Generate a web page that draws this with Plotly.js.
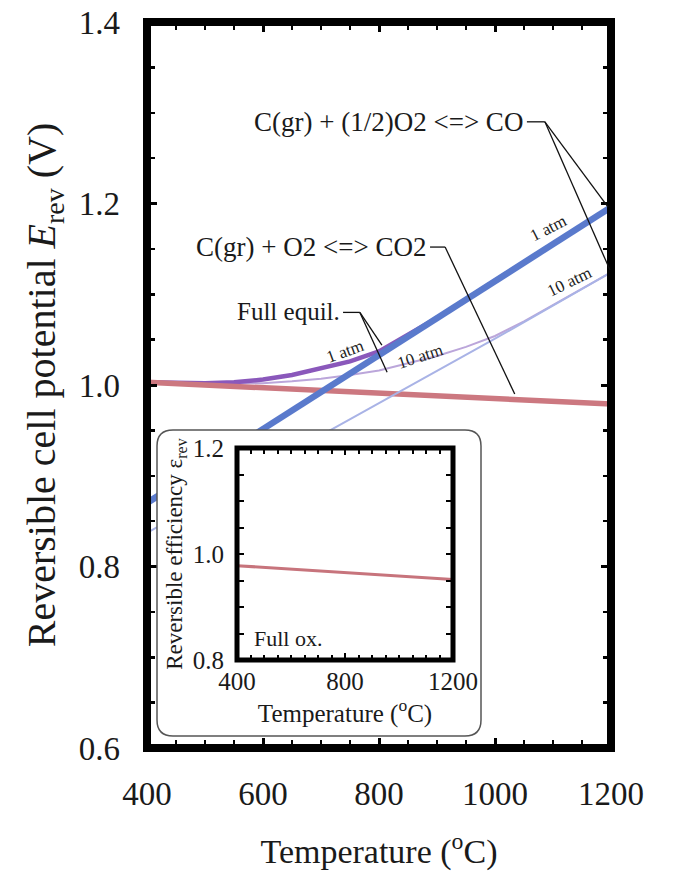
<!DOCTYPE html>
<html>
<head>
<meta charset="utf-8">
<script src="https://cdn.plot.ly/plotly-3.0.1.min.js"></script>
<style>html,body{margin:0;padding:0;background:#fff;}#chart{width:674px;height:878px;}</style>
</head>
<body>
<div id="chart"></div>
<script>
// ---- data ----
var tCO2 = [400, 800, 1200];
var eCO2 = [1.003, 0.991, 0.979];               // C(gr)+O2 <=> CO2 (1 & 10 atm coincide)

var tCO = [400, 600, 800, 1000, 1200];
var eCO_1atm = [0.870, 0.952, 1.034, 1.115, 1.196];
var eCO_10atm = [0.837, 0.909, 0.980, 1.051, 1.124];

var tEq1 = [400, 500, 550, 600, 650, 700, 750, 800, 850, 900, 1000, 1100, 1200];
var eEq_1atm = [1.003, 1.002, 1.003, 1.006, 1.011, 1.018, 1.026, 1.037, 1.055, 1.074, 1.115, 1.156, 1.196];

var tEq10 = [400, 500, 600, 650, 700, 750, 800, 850, 900, 950, 1000, 1050, 1100, 1150, 1200];
var eEq_10atm = [1.003, 1.002, 1.002, 1.004, 1.007, 1.011, 1.016, 1.024, 1.032, 1.042, 1.054, 1.070, 1.088, 1.106, 1.124];

var tInset = [400, 800, 1200];
var effInset = [0.978, 0.965, 0.952];

var xTicks = [400, 600, 800, 1000, 1200];
var yTicks = [0.6, 0.8, 1.0, 1.2, 1.4];
var xTicksInset = [400, 800, 1200];
var yTicksInset = [0.8, 1.0, 1.2];

// ---- layout helpers (pixel -> paper) ----
var ML = 147, MR = 63, MT = 22, MB = 130, W = 674, H = 878;
var PW = W - ML - MR, PH = H - MT - MB;
function px(x) { return (x - ML) / PW; }
function py(y) { return (H - MB - y) / PH; }

var serif = 'Liberation Serif, Times New Roman, serif';

var traces = [
  {x: tEq10, y: eEq_10atm, xaxis: 'x', yaxis: 'y', mode: 'lines', line: {color: '#bba6da', width: 2}, hoverinfo: 'skip'},
  {x: tEq1, y: eEq_1atm, xaxis: 'x', yaxis: 'y', mode: 'lines', line: {color: '#8a58bb', width: 4.5}, hoverinfo: 'skip'},
  {x: tCO2, y: eCO2, xaxis: 'x', yaxis: 'y', mode: 'lines', line: {color: '#cc7880', width: 5.5}, hoverinfo: 'skip'},
  {x: tCO, y: eCO_10atm, xaxis: 'x', yaxis: 'y', mode: 'lines', line: {color: '#a9b3e6', width: 2}, hoverinfo: 'skip'},
  {x: tCO, y: eCO_1atm, xaxis: 'x', yaxis: 'y', mode: 'lines', line: {color: '#5a7acc', width: 6.5}, hoverinfo: 'skip'},
  // empty trace to create the white inset box subplot
  {x: [null], y: [null], xaxis: 'x2', yaxis: 'y2', mode: 'lines', hoverinfo: 'skip'},
  {x: tInset, y: effInset, xaxis: 'x3', yaxis: 'y3', mode: 'lines', line: {color: '#c7747c', width: 3}, hoverinfo: 'skip'}
];

var boxL = 157, boxR = 481, boxT = 430, boxB = 736, rad = 16;
var inL = 237, inR = 453, inT = 448, inB = 660;
function roundRectPath(l, t, r, b, rr) {
  return 'M' + px(l + rr) + ',' + py(t) +
    ' L' + px(r - rr) + ',' + py(t) +
    ' Q' + px(r) + ',' + py(t) + ' ' + px(r) + ',' + py(t + rr) +
    ' L' + px(r) + ',' + py(b - rr) +
    ' Q' + px(r) + ',' + py(b) + ' ' + px(r - rr) + ',' + py(b) +
    ' L' + px(l + rr) + ',' + py(b) +
    ' Q' + px(l) + ',' + py(b) + ' ' + px(l) + ',' + py(b - rr) +
    ' L' + px(l) + ',' + py(t + rr) +
    ' Q' + px(l) + ',' + py(t) + ' ' + px(l + rr) + ',' + py(t) + ' Z';
}

function seg(x0, y0, x1, y1) {
  return {type: 'line', xref: 'x', yref: 'y', x0: x0, y0: y0, x1: x1, y1: y1,
          line: {color: '#111', width: 1.3}, layer: 'above'};
}

var shapes = [
  // main frame
  {type: 'rect', xref: 'paper', yref: 'paper', x0: 0, x1: 1, y0: 0, y1: 1,
   line: {color: '#000', width: 8}, fillcolor: 'rgba(0,0,0,0)', layer: 'above'},
  // inset rounded box
  {type: 'path', xref: 'paper', yref: 'paper', path: roundRectPath(boxL, boxT, boxR, boxB, rad),
   line: {color: '#555', width: 1.5}, fillcolor: 'rgba(0,0,0,0)', layer: 'above'},
  // inset frame
  {type: 'rect', xref: 'paper', yref: 'paper', x0: px(inL), x1: px(inR), y0: py(inB), y1: py(inT),
   line: {color: '#000', width: 5}, fillcolor: 'rgba(0,0,0,0)', layer: 'above'},
  // leader: CO
  seg(1055, 1.290, 1086, 1.290), seg(1086, 1.290, 1195, 1.196), seg(1086, 1.290, 1198, 1.127),
  // leader: CO2
  seg(888, 1.152, 914, 1.152), seg(914, 1.152, 1034, 0.990),
  // leader: full equil
  seg(738, 1.080, 767, 1.080), seg(767, 1.080, 805, 1.044), seg(767, 1.080, 814, 1.014)
];

var annotations = [
  {xref: 'x', yref: 'y', x: 1052, y: 1.290, xanchor: 'right', yanchor: 'middle', showarrow: false,
   text: 'C(gr) + (1/2)O2 &lt;=&gt; CO', font: {family: serif, size: 27, color: '#1a1a1a'}},
  {xref: 'x', yref: 'y', x: 885, y: 1.152, xanchor: 'right', yanchor: 'middle', showarrow: false,
   text: 'C(gr) + O2 &lt;=&gt; CO2', font: {family: serif, size: 27, color: '#1a1a1a'}},
  {xref: 'x', yref: 'y', x: 736, y: 1.081, xanchor: 'right', yanchor: 'middle', showarrow: false,
   text: 'Full equil.', font: {family: serif, size: 25, color: '#1a1a1a'}},
  {xref: 'x', yref: 'y', x: 1091, y: 1.173, showarrow: false, textangle: -27,
   text: '1 atm', font: {family: serif, size: 17, color: '#222'}},
  {xref: 'x', yref: 'y', x: 1129, y: 1.114, showarrow: false, textangle: -26,
   text: '10 atm', font: {family: serif, size: 17, color: '#222'}},
  {xref: 'x', yref: 'y', x: 741, y: 1.037, showarrow: false, textangle: -20,
   text: '1 atm', font: {family: serif, size: 17, color: '#222'}},
  {xref: 'x', yref: 'y', x: 871, y: 1.031, showarrow: false, textangle: -18,
   text: '10 atm', font: {family: serif, size: 17, color: '#222'}},
  {xref: 'x3', yref: 'y3', x: 455, y: 0.84, xanchor: 'left', yanchor: 'middle', showarrow: false,
   text: 'Full ox.', font: {family: serif, size: 22, color: '#1a1a1a'}}
];

var frame = {showline: false, linewidth: 0, mirror: 'ticks', showgrid: false, zeroline: false,
             ticks: 'inside', tickcolor: '#000'};

var layout = {
  width: W, height: H,
  margin: {l: ML, r: MR, t: MT, b: MB, pad: 0},
  paper_bgcolor: '#fff', plot_bgcolor: '#fff',
  showlegend: false,
  font: {family: serif, color: '#1a1a1a'},
  xaxis: Object.assign({}, frame, {
    domain: [0, 1], anchor: 'y', range: [400, 1200],
    tickvals: xTicks, ticktext: xTicks.map(String),
    ticklen: 10, tickwidth: 3,
    minor: {tick0: 400, dtick: 50, ticks: 'inside', ticklen: 8, tickwidth: 2.5, tickcolor: '#000'},
    tickfont: {family: serif, size: 33, color: '#1a1a1a'}, ticklabelstandoff: 23,
    title: {text: 'Temperature (<sup>o</sup>C)', font: {family: serif, size: 34, color: '#1a1a1a'}, standoff: 28}
  }),
  yaxis: Object.assign({}, frame, {
    domain: [0, 1], anchor: 'x', range: [0.6, 1.4],
    tickvals: yTicks, ticktext: yTicks.map(function (v) { return v.toFixed(1); }),
    ticklen: 10, tickwidth: 3,
    minor: {tick0: 0.6, dtick: 0.05, ticks: 'inside', ticklen: 8, tickwidth: 2.5, tickcolor: '#000'},
    tickfont: {family: serif, size: 33, color: '#1a1a1a'}, ticklabelstandoff: 26,
    title: {text: 'Reversible cell potential <i>E</i><sub>rev</sub> (V)', font: {family: serif, size: 40, color: '#1a1a1a'}, standoff: 10}
  }),
  xaxis2: {domain: [px(boxL), px(boxR)], anchor: 'y2', visible: false, range: [0, 1], fixedrange: true},
  yaxis2: {domain: [py(boxB), py(boxT)], anchor: 'x2', visible: false, range: [0, 1], fixedrange: true},
  xaxis3: Object.assign({}, frame, {
    domain: [px(inL), px(inR)], anchor: 'y3', range: [400, 1200],
    tickvals: xTicksInset, ticktext: xTicksInset.map(String),
    ticklen: 7, tickwidth: 2.5,
    minor: {tick0: 400, dtick: 50, ticks: 'inside', ticklen: 5.5, tickwidth: 2, tickcolor: '#000'},
    tickfont: {family: serif, size: 25, color: '#1a1a1a'}, ticklabelstandoff: 4,
    title: {text: 'Temperature (<sup>o</sup>C)', font: {family: serif, size: 25, color: '#1a1a1a'}, standoff: 0}
  }),
  yaxis3: Object.assign({}, frame, {
    domain: [py(inB), py(inT)], anchor: 'x3', range: [0.8, 1.2],
    tickvals: yTicksInset, ticktext: yTicksInset.map(function (v) { return v.toFixed(1); }),
    ticklen: 7, tickwidth: 2.5,
    minor: {tick0: 0.8, dtick: 0.05, ticks: 'inside', ticklen: 7, tickwidth: 2, tickcolor: '#000'},
    tickfont: {family: serif, size: 25, color: '#1a1a1a'}, ticklabelstandoff: 12,
    title: {text: 'Reversible efficiency ε<sub>rev</sub>', font: {family: serif, size: 23, color: '#1a1a1a'}, standoff: 3}
  }),
  shapes: shapes,
  annotations: annotations
};

Plotly.newPlot('chart', traces, layout, {displayModeBar: false, staticPlot: true});
</script>
</body>
</html>
